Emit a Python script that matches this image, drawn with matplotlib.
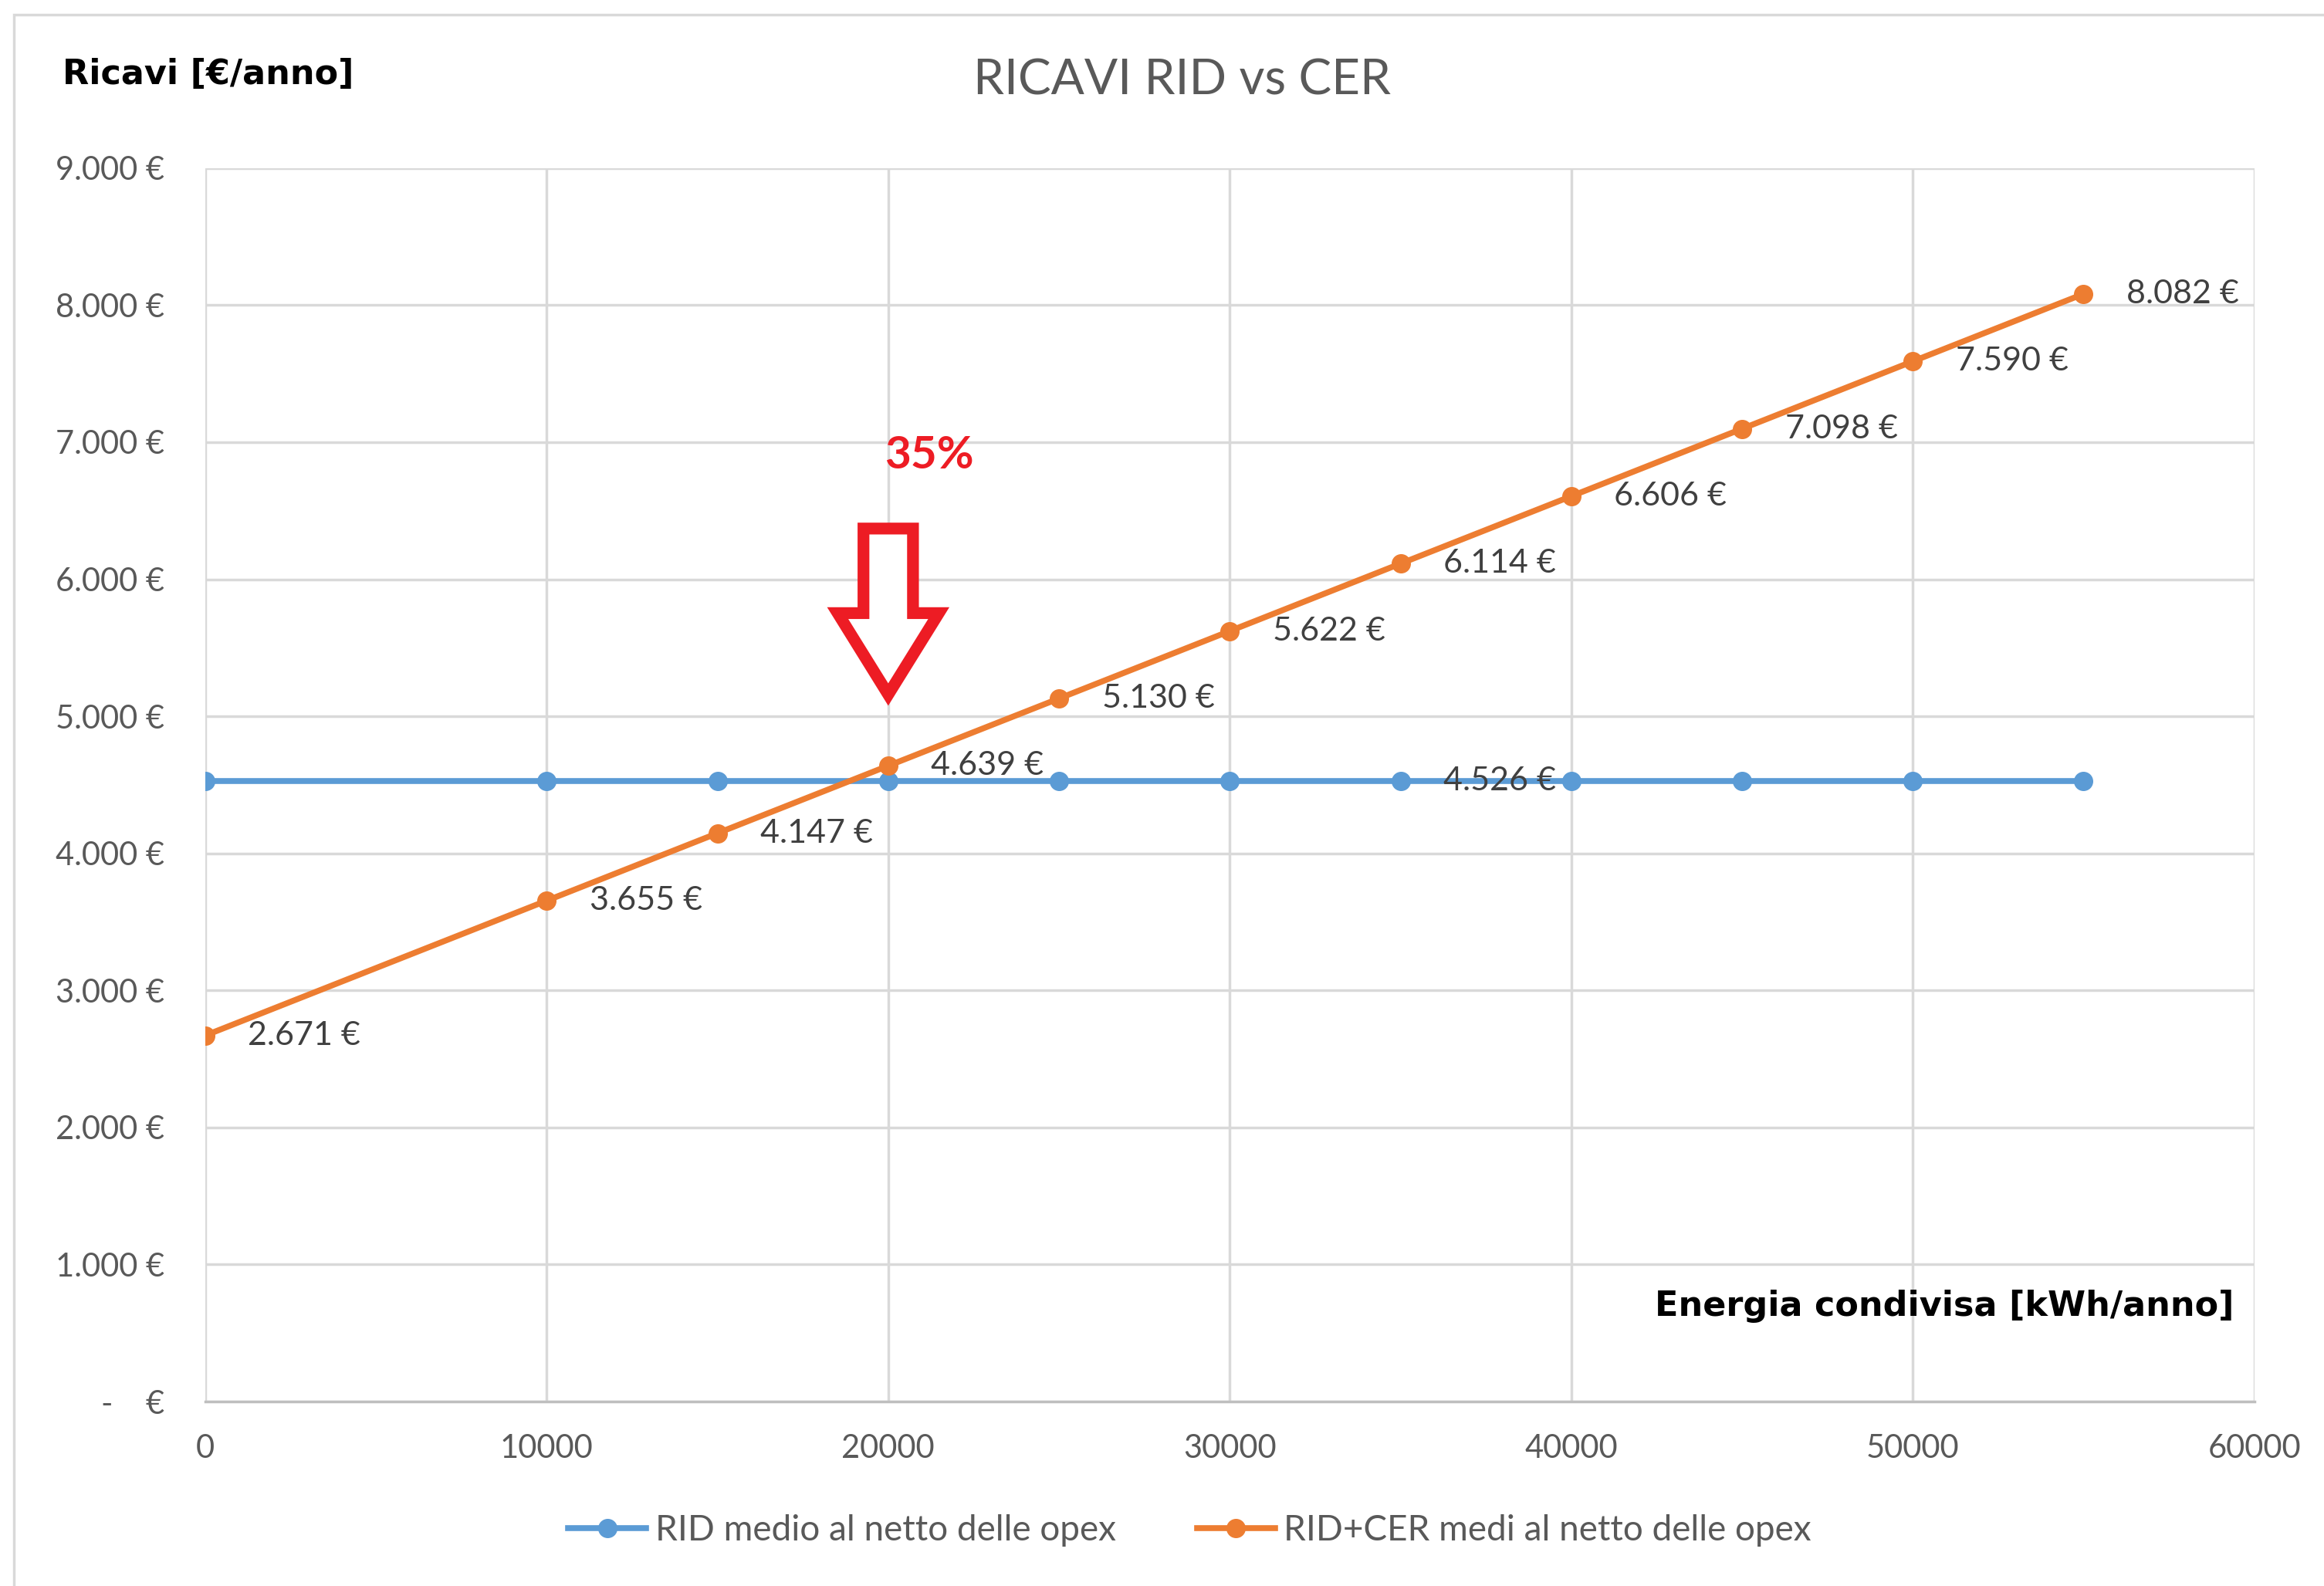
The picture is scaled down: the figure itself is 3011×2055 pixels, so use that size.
import matplotlib.pyplot as plt
from matplotlib.patches import FancyArrow, Rectangle
from matplotlib.ticker import FuncFormatter, MultipleLocator

plt.rcParams['font.family'] = ['Lato', 'DejaVu Sans']

# data
energia = [0, 10000, 15000, 20000, 25000, 30000, 35000, 40000, 45000, 50000, 55000]
rid = [4526] * len(energia)
rid_cer = [2671, 3655, 4147, 4639, 5130, 5622, 6114, 6606, 7098, 7590, 8082]
rid_label_at = 35000

blue = "#5B9BD5"
orange = "#ED7D31"
grid_c = "#D9D9D9"
txt_c = "#595959"
lbl_c = "#404040"


def euro(v, pos=None):
    if v == 0:
        return "-    €"
    return f"{int(v):,} €".replace(",", ".")


fig = plt.figure(figsize=(30.11, 20.55), dpi=100)
ax = fig.add_axes([0.0883, 0.1163, 0.8817, 0.7777])

# outer chart border
fig.patches.append(Rectangle((18 / 3011, -0.1), 1.2, 1.1 - 19 / 2055, transform=fig.transFigure,
                             fill=False, edgecolor=grid_c, lw=2.5))

ax.plot(energia, rid, color=blue, lw=5.5, marker="o", ms=17, zorder=3,
        label="RID medio al netto delle opex")
ax.plot(energia, rid_cer, color=orange, lw=5.5, marker="o", ms=17, zorder=4,
        label="RID+CER medi al netto delle opex")

for x, y in zip(energia, rid_cer):
    ax.annotate(euro(y), (x, y), xytext=(40, 0), textcoords="offset points",
                ha="left", va="center", fontsize=31, color=lbl_c, zorder=5)
i = energia.index(rid_label_at)
ax.annotate(euro(rid[i]), (energia[i], rid[i]), xytext=(40, 0), textcoords="offset points",
            ha="left", va="center", fontsize=31, color=lbl_c, zorder=5)

ax.set_xlim(0, 60000)
ax.set_ylim(0, 9000)
ax.xaxis.set_major_locator(MultipleLocator(10000))
ax.yaxis.set_major_locator(MultipleLocator(1000))
ax.yaxis.set_major_formatter(FuncFormatter(euro))
ax.grid(True, color=grid_c, lw=2.5)
ax.set_axisbelow(True)
for s in ["top", "right", "left"]:
    ax.spines[s].set_visible(False)
ax.spines["bottom"].set_color("#BFBFBF")
ax.spines["bottom"].set_linewidth(2.5)
ax.tick_params(length=0, labelsize=30, labelcolor=txt_c)
ax.tick_params(axis="x", pad=30)
ax.tick_params(axis="y", pad=38)

# arrow + 35% annotation at the crossing
ax.add_patch(FancyArrow(20000, 6370, 0, -1211, width=1450, head_width=2960, head_length=594,
                        length_includes_head=True, facecolor="white", edgecolor="#ED1C24",
                        lw=11, joinstyle="miter", zorder=6))
ax.text(21200, 6900, "35%", color="#ED1C24", fontsize=42, fontweight="bold",
        ha="center", va="center", zorder=6)

fig.text(0.5085, 0.949, "RICAVI RID vs CER", ha="center", va="center", fontsize=46, color=txt_c)
fig.text(0.027, 0.953, "Ricavi [€/anno]", ha="left", va="center", fontsize=32,
         fontweight="bold", color="black", family="DejaVu Sans")
ax.text(0.99, 0.0775, "Energia condivisa [kWh/anno]", transform=ax.transAxes, ha="right",
        va="center", fontsize=32, fontweight="bold", color="black", family="DejaVu Sans")

fig.legend(loc="center", bbox_to_anchor=(0.512, 0.035), ncol=2, frameon=False,
           fontsize=33, labelcolor=txt_c, handlelength=2.2, handletextpad=0.25,
           columnspacing=2.3, markerscale=1.0)

fig.savefig("out.png", dpi=100)
